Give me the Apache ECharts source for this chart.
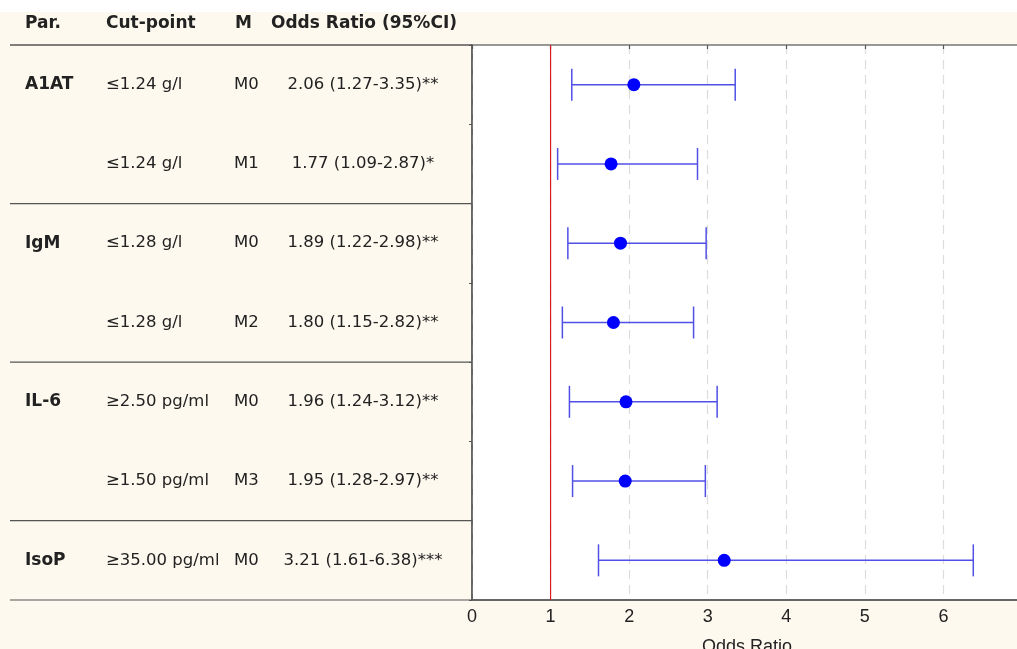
<!DOCTYPE html>
<html>
<head>
<meta charset="utf-8">
<script src="https://cdn.jsdelivr.net/npm/echarts@6/dist/echarts.min.js"></script>
<style>html,body{margin:0;padding:0;background:#fff;}#c{width:1017px;height:649px;}</style>
</head>
<body>
<div id="c"></div>
<script>
const headers = ['Par.', 'Cut-point', 'M', 'Odds Ratio (95%CI)'];
const params = ['A1AT', '', 'IgM', '', 'IL-6', '', 'IsoP'];
const cutPoints = ['≤1.24 g/l', '≤1.24 g/l', '≤1.28 g/l', '≤1.28 g/l', '≥2.50 pg/ml', '≥1.50 pg/ml', '≥35.00 pg/ml'];
const models = ['M0', 'M1', 'M0', 'M2', 'M0', 'M3', 'M0'];
const oddsRatio = [2.06, 1.77, 1.89, 1.80, 1.96, 1.95, 3.21];
const ciLow = [1.27, 1.09, 1.22, 1.15, 1.24, 1.28, 1.61];
const ciHigh = [3.35, 2.87, 2.98, 2.82, 3.12, 2.97, 6.38];
const stars = ['**', '*', '**', '**', '**', '**', '***'];
const xTicks = [0, 1, 2, 3, 4, 5, 6];
const groupEnds = [1, 3, 5, 6]; // row index after which a group separator is drawn
const refValue = 1;

const rowIds = params.map((p, i) => 'row' + i);
const orText = oddsRatio.map((v, i) => v.toFixed(2) + ' (' + ciLow[i].toFixed(2) + '-' + ciHigh[i].toFixed(2) + ')' + stars[i]);

const BG = '#fdf9ee';
const FONT = 'DejaVu Sans';
const AXFONT = 'Liberation Sans';
const chart = echarts.init(document.getElementById('c'), null, {renderer: 'canvas'});

const gridTop = 45, gridH = 555, gridLeft = 472, gridW = 550;

chart.setOption({
  backgroundColor: BG,
  animation: false,
  grid: {left: gridLeft, top: gridTop, width: gridW, height: gridH, show: true, backgroundColor: '#ffffff', borderColor: '#777', borderWidth: 1.5, containLabel: false, outerBoundsMode: 'none'},
  xAxis: [{
    type: 'value', min: 0, max: 7, interval: 1,
    axisLine: {show: true, lineStyle: {color: '#555', width: 1.5}},
    axisTick: {show: false},
    axisLabel: {
      color: '#222', fontSize: 18, fontFamily: AXFONT, margin: 8,
      formatter: v => (xTicks.indexOf(v) >= 0 ? String(v) : '')
    },
    splitLine: {show: true, lineStyle: {color: '#dcdcdc', type: [9, 6], width: 1.2}},
    name: 'Odds Ratio', nameLocation: 'middle', nameGap: 38,
    nameTextStyle: {color: '#222', fontSize: 18, fontFamily: AXFONT}
  }, {
    type: 'value', min: 0, max: 7, interval: 1, position: 'top',
    axisLine: {show: false},
    axisTick: {show: true, inside: true, length: 4, lineStyle: {color: '#555', width: 1.2}},
    axisLabel: {show: false},
    splitLine: {show: false}
  }],
  yAxis: {
    type: 'category', data: rowIds, inverse: true,
    axisLine: {show: true, lineStyle: {color: '#555', width: 1.5}},
    axisTick: {show: true, length: 3, lineStyle: {color: '#555'}},
    axisLabel: {show: false},
    splitLine: {show: false}
  },
  series: [
    {
      type: 'custom',
      dimensions: ['val'],
      data: [[refValue]],
      encode: {x: 0},
      renderItem: function (p, api) {
        const cs = p.coordSys;
        const x = api.coord([api.value(0), 0])[0];
        return {type: 'line', shape: {x1: x, y1: cs.y, x2: x, y2: cs.y + cs.height}, style: {stroke: '#d62020', lineWidth: 1.2}};
      },
      silent: true,
      z: 2
    },
    {
      type: 'custom',
      dimensions: ['low', 'high', 'row'],
      data: rowIds.map((r, i) => [ciLow[i], ciHigh[i], i]),
      encode: {x: [0, 1], y: 2},
      renderItem: function (p, api) {
        const a = api.coord([api.value(0), api.value(2)]);
        const b = api.coord([api.value(1), api.value(2)]);
        const cap = 16;
        const st = {stroke: '#5050e6', lineWidth: 1.5};
        return {
          type: 'group',
          children: [
            {type: 'line', shape: {x1: a[0], y1: a[1], x2: b[0], y2: b[1]}, style: st},
            {type: 'line', shape: {x1: a[0], y1: a[1] - cap, x2: a[0], y2: a[1] + cap}, style: st},
            {type: 'line', shape: {x1: b[0], y1: b[1] - cap, x2: b[0], y2: b[1] + cap}, style: st}
          ]
        };
      },
      z: 3
    },
    {
      type: 'scatter',
      data: rowIds.map((r, i) => [oddsRatio[i], i]),
      symbol: 'circle', symbolSize: 13,
      itemStyle: {color: '#0000ff', opacity: 1},
      z: 4
    }
  ]
});

// Table drawn beside the plot, rows aligned with the category axis
const els = [];
els.push({type: 'rect', shape: {x: 0, y: 0, width: 1017, height: 12}, style: {fill: '#ffffff'}, silent: true});
const hx = [25, 106, 235, 271];
const HF = 'bold 17px "' + FONT + '"';
const BF = '16.5px "' + FONT + '"';
headers.forEach((h, k) => {
  els.push({type: 'text', x: hx[k], y: 24, style: {text: h, font: HF, fill: '#222', verticalAlign: 'middle', align: 'left'}});
});
els.push({type: 'line', shape: {x1: 10, y1: gridTop, x2: gridLeft, y2: gridTop}, style: {stroke: '#555', lineWidth: 1.5}});
const rowH = gridH / rowIds.length;
rowIds.forEach((r, i) => {
  const y = gridTop + rowH * (i + 0.5);
  if (params[i]) els.push({type: 'text', x: 25, y: y, style: {text: params[i], font: HF, fill: '#222', verticalAlign: 'middle'}});
  els.push({type: 'text', x: 106, y: y, style: {text: cutPoints[i], font: BF, fill: '#222', verticalAlign: 'middle'}});
  els.push({type: 'text', x: 234, y: y, style: {text: models[i], font: BF, fill: '#222', verticalAlign: 'middle'}});
  els.push({type: 'text', x: 363, y: y, style: {text: orText[i], font: BF, fill: '#222', verticalAlign: 'middle', align: 'center'}});
});
groupEnds.forEach(g => {
  const y = gridTop + rowH * (g + 1);
  els.push({type: 'line', shape: {x1: 10, y1: y, x2: gridLeft, y2: y}, style: {stroke: '#555', lineWidth: 1.2}});
});
chart.setOption({graphic: {elements: els}});
</script>
</body>
</html>
